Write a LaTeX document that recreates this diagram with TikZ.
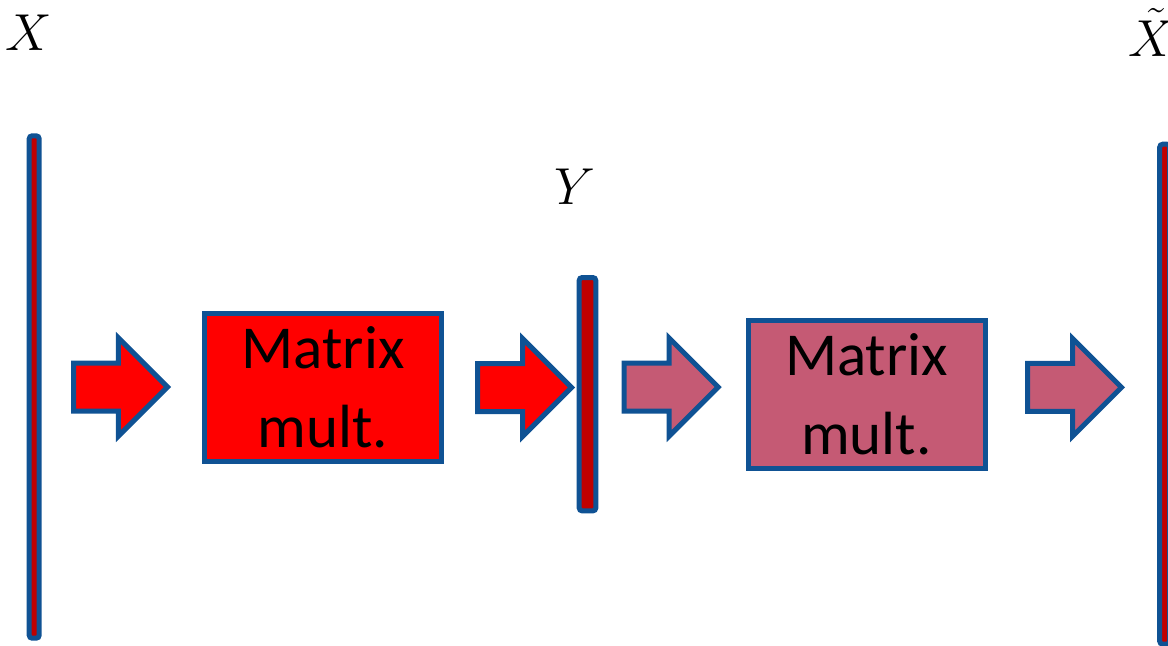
\RequirePackage{fix-cm}
\documentclass[tikz,border=0pt]{standalone}
\usepackage{fontspec}
\newfontfamily\boxfont{Carlito}
\usetikzlibrary{shapes.arrows}
\definecolor{edge}{HTML}{0F5294}
\definecolor{deepred}{HTML}{C00000}
\definecolor{rose}{HTML}{C55A74}

\begin{document}
\begin{tikzpicture}[
    x=0.5pt, y=-0.5pt,
    vec/.style={draw=edge, line width=2.5pt, fill=deepred, rounded corners=1.5pt, inner sep=0pt},
    mult/.style={draw=edge, line width=2.5pt, minimum width=118.5pt, minimum height=74pt, align=center, inner sep=0pt, font=\boxfont\fontsize{30.5}{39.3}\selectfont},
    flow/.style={single arrow, draw=edge, line width=2.5pt, minimum height=47pt, inner xsep=0pt, inner ysep=10.75pt, single arrow head extend=12.5pt, anchor=tail},
    lab/.style={anchor=base, inner sep=0pt, font=\fontsize{26}{30}\selectfont}
]
    \clip (0,0) rectangle (1168,645);

    % Input X
    \node[vec, minimum width=5pt, minimum height=251.2pt] (xvec) at (34.2,387) {};
    \node[lab] (xlab) at (29,50) {$X$};

    % First stage
    \node[flow, fill=red] (a1) at (71,387) {};
    \node[mult, fill=red] (m1) at (323,387.5) {Matrix\\mult.};
    \node[flow, fill=red] (a2) at (475,387.5) {};

    % Code Y
    \node[vec, minimum width=8.3pt, minimum height=116.7pt] (yvec) at (587.5,394.2) {};
    \node[lab] (ylab) at (575,204) {$Y$};

    % Second stage
    \node[flow, fill=rose] (a3) at (621.7,387) {};
    \node[mult, fill=rose] (m2) at (866.5,394.5) {Matrix\\mult.};
    \node[flow, fill=rose] (a4) at (1025,387.3) {};

    % Output X tilde
    \node[vec, minimum width=5pt, minimum height=250pt] (xtvec) at (1164.7,394.2) {};
    \node[lab] (xtlab) at (1152,56) {$\tilde{X}$};
\end{tikzpicture}
\end{document}
